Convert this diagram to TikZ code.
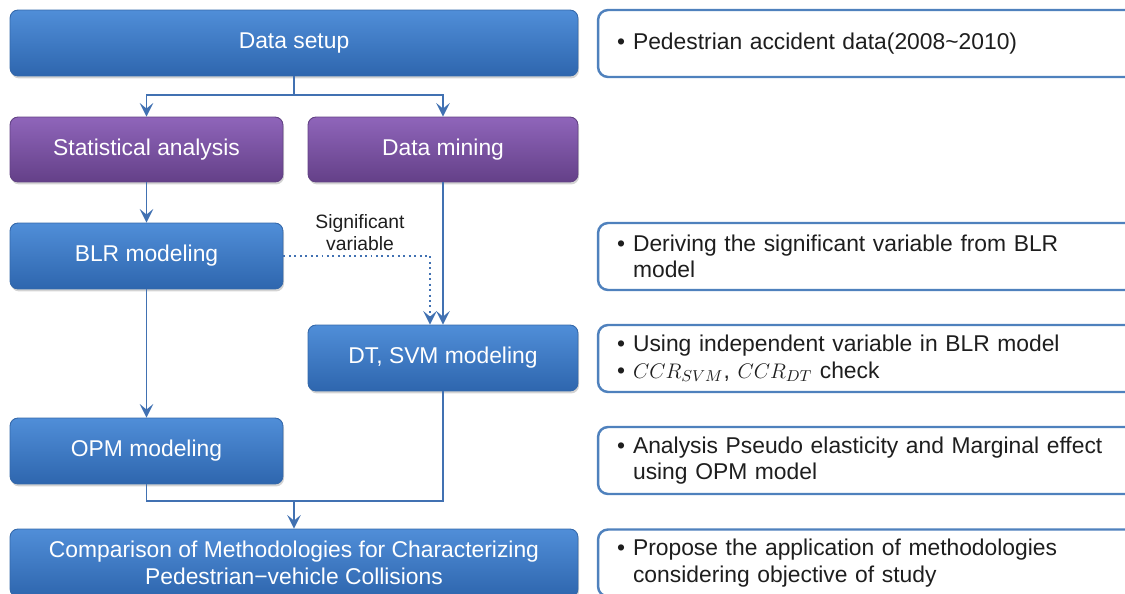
\documentclass[tikz,border=0pt]{standalone}
\usepackage{fontspec}
\setmainfont{Liberation Sans}
\usepackage{tikz}
\usetikzlibrary{arrows.meta,shadows}
\definecolor{boxtop}{RGB}{80,142,216}
\definecolor{boxbot}{RGB}{46,102,174}
\definecolor{edgeblue}{RGB}{52,104,170}
\definecolor{purtop}{RGB}{143,101,186}
\definecolor{purbot}{RGB}{100,64,136}
\definecolor{edgepurple}{RGB}{98,66,132}
\definecolor{noteedge}{RGB}{79,129,189}
\definecolor{notetext}{RGB}{30,30,30}
\definecolor{linecol}{RGB}{65,113,178}
\newcommand{\nbul}{\makebox[0.32cm][l]{\textbullet}}
\newcommand{\nind}{\hspace*{0.32cm}}
\begin{document}
\begin{tikzpicture}[x=0.02cm, y=-0.02cm,
    basebox/.style={rectangle, rounded corners=0.16cm, draw=edgeblue, line width=0.5pt,
      text=white, font=\fontsize{13}{15}\selectfont, align=center,
      drop shadow={opacity=0.35, shadow xshift=0.6pt, shadow yshift=-1.4pt}},
    bluebox/.style={basebox, top color=boxtop, bottom color=boxbot},
    purplebox/.style={basebox, draw=edgepurple, top color=purtop, bottom color=purbot},
    notebox/.style={rectangle, rounded corners=0.2cm, draw=noteedge, line width=1.4pt, fill=white,
      minimum width=10.9cm, minimum height=1.34cm, text width=10.14cm, inner xsep=0.38cm,
      align=left, text=notetext, font=\fontsize{13}{15}\selectfont},
    flow/.style={draw=linecol, line width=1.1pt},
    flowarrow/.style={flow, -{Stealth[length=2.7mm, width=2.7mm, inset=1.1mm]}},
    sigarrow/.style={flowarrow, dotted}]
  % page frame: 1 unit = 1 px of the 1125 x 594 layout
  \useasboundingbox (0,0) rectangle (1125,594);
  \clip (0,0) rectangle (1125,594);

  % left column: flow boxes
  \node[bluebox, minimum width=11.36cm, minimum height=1.32cm] (setup) at (294,43) {Data setup};
  \node[purplebox, minimum width=5.46cm, minimum height=1.3cm] (stat) at (146.5,149.5) {Statistical analysis};
  \node[purplebox, minimum width=5.4cm, minimum height=1.3cm] (mining) at (443,149.5) {Data mining};
  \node[bluebox, minimum width=5.46cm, minimum height=1.32cm] (blr) at (146.5,256) {BLR modeling};
  \node[bluebox, minimum width=5.4cm, minimum height=1.32cm] (dtsvm) at (443,358) {DT, SVM modeling};
  \node[bluebox, minimum width=5.46cm, minimum height=1.32cm] (opm) at (146.5,451) {OPM modeling};
  \node[bluebox, minimum width=11.36cm, minimum height=1.36cm] (compare) at (294,563)
    {Comparison of Methodologies for Characterizing\\Pedestrian−vehicle Collisions};

  % right column: notes
  \node[notebox] (setupnote) at (870.5,43.5) {\nbul Pedestrian accident data(2008\textasciitilde2010)};
  \node[notebox] (blrnote) at (870.5,256.5) {\nbul Deriving the significant variable from BLR\\\nind model};
  \node[notebox] (dtsvmnote) at (870.5,358.5) {\nbul Using independent variable in BLR model\\\nbul $CCR_{SVM}$, $CCR_{DT}$ check};
  \node[notebox] (opmnote) at (870.5,460.5) {\nbul Analysis Pseudo elasticity and Marginal effect\\\nind using OPM model};
  \node[notebox] (comparenote) at (870.5,563) {\nbul Propose the application of methodologies\\\nind considering objective of study};

  \node[font=\fontsize{11}{12.5}\selectfont, text=notetext, align=center] (sigvar) at (360,233) {Significant\\variable};

  % connectors
  \coordinate (split) at (294,95);
  \coordinate (join) at (294,501);
  \draw[flow] (setup) -- (split);
  \draw[flowarrow] (split) -| (stat);
  \draw[flowarrow] (split) -| (mining);
  \draw[flowarrow] (stat) -- (blr);
  \draw[flowarrow] (mining) -- (dtsvm);
  \draw[flowarrow] (blr) -- (opm);
  \draw[sigarrow] (blr) -| ([xshift=-0.26cm]dtsvm.north);
  \draw[flow] (opm) |- (join) -| (dtsvm);
  \draw[flowarrow] (join) -- (compare);
\end{tikzpicture}
\end{document}
